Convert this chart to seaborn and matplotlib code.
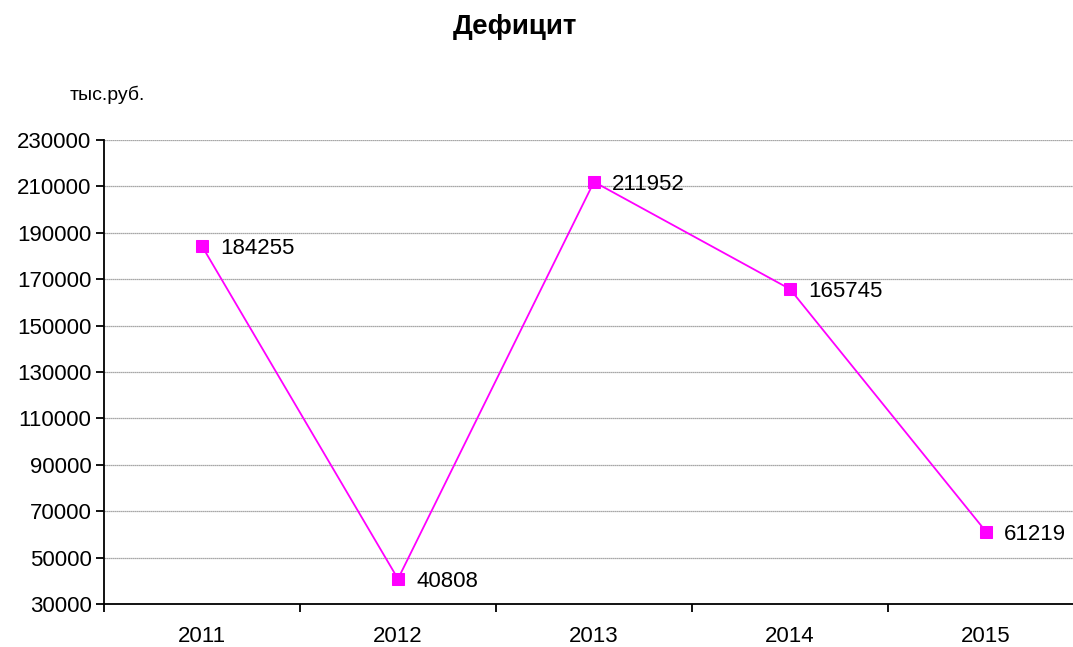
import matplotlib
matplotlib.use("Agg")
import matplotlib.pyplot as plt
import seaborn as sns
import pandas as pd
import numpy as np
from matplotlib.ticker import FixedLocator

years = ["2011", "2012", "2013", "2014", "2015"]
deficit = [184255, 40808, 211952, 165745, 61219]
y_ticks = [30000, 50000, 70000, 90000, 110000, 130000, 150000, 170000, 190000, 210000, 230000]

sns.set_style("white")
plt.rcParams['font.family'] = ['Liberation Sans', 'DejaVu Sans']
plt.rcParams['text.color'] = 'black'
plt.rcParams['xtick.color'] = 'black'
plt.rcParams['ytick.color'] = 'black'

df = pd.DataFrame({"idx": np.arange(len(years)), "value": deficit})

fig = plt.figure(figsize=(10.73, 6.47), dpi=100)
ax = fig.add_axes([104/1073, 43/647, 1 - 104/1073, (604-140)/647])

for yv in y_ticks[1:]:
    ax.axhline(yv, color="#8c8c8c", lw=0.9, ls=(0, (1, 0.6)), zorder=0)

sns.lineplot(data=df, x="idx", y="value", ax=ax, color="#ff00ff", lw=1.3,
             marker="s", markersize=8, markeredgecolor="#ff00ff", zorder=3)

for i, v in enumerate(deficit):
    ax.annotate(str(v), (i, v), xytext=(13, -2), textcoords="offset points",
                ha="left", va="center", fontsize=16, color="black")

ax.set_xlim(-0.5, 4.444)
ax.set_ylim(30000, 230000)
ax.set_yticks(y_ticks)
ax.set_yticklabels([str(t) for t in y_ticks], fontsize=16)
ax.set_xticks(range(len(years)))
ax.set_xticklabels(years, fontsize=16)
ax.xaxis.set_minor_locator(FixedLocator([-0.5, 0.5, 1.5, 2.5, 3.5]))
ax.tick_params(axis="x", which="major", bottom=True, length=0, pad=16)
ax.tick_params(axis="x", which="minor", bottom=True, length=6, width=1.3, color="black", direction="out")
ax.tick_params(axis="y", left=True, length=6, width=1.3, color="black", direction="out", pad=3)
ax.set_xlabel("")
ax.set_ylabel("")

for s in ["top", "right"]:
    ax.spines[s].set_visible(False)
for s in ["left", "bottom"]:
    ax.spines[s].set_color("black")
    ax.spines[s].set_linewidth(1.3)

fig.text(515/1073, 1 - 27/647, "Дефицит", ha="center", va="center", fontsize=20, fontweight="bold")
fig.text(70/1073, 1 - 95/647, "тыс.руб.", ha="left", va="center", fontsize=14)

fig.savefig("out.png", dpi=100)
